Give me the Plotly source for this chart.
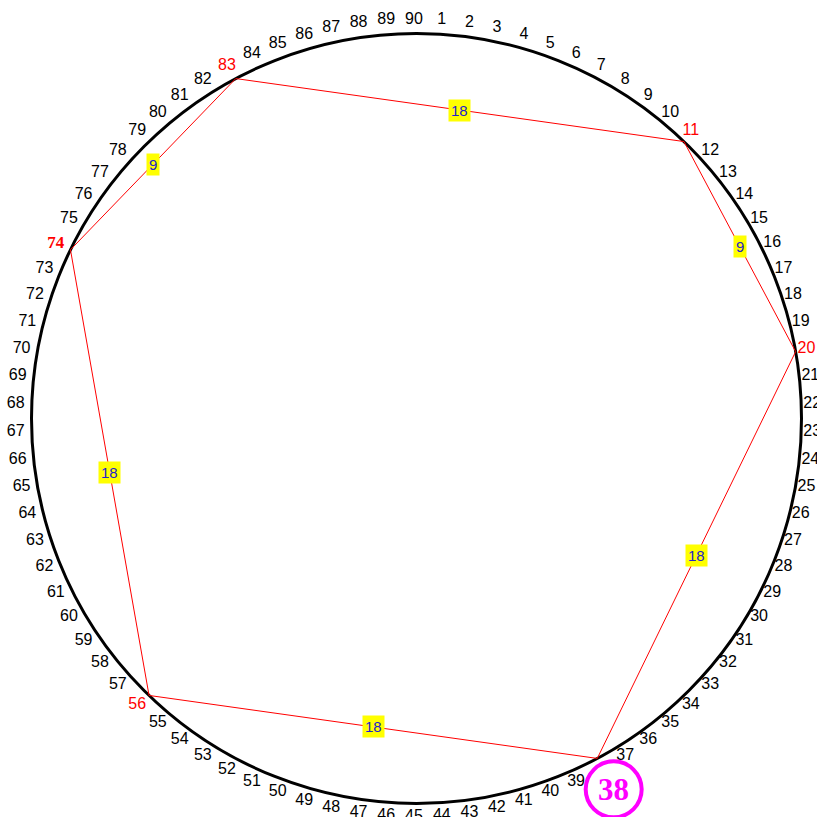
import numpy as np
import plotly.graph_objects as go

# ---- data ----
positions = list(range(1, 91))                 # numbers around the wheel
selected = [11, 20, 38, 56, 74, 83]            # marked numbers (polygon vertices)
gaps = [9, 18, 18, 18, 9, 18]                  # 11->20, 20->38, 38->56, 56->74, 74->83, 83->11
highlight = 38                                 # circled number
bold_label = 74

# ---- geometry (pixel-like data space) ----
N = len(positions)
cx, cy = 416.5, 418.5          # wheel centre
R = 385.0
lcx, lcy = 414.0, 418.0        # label ring centre
R_lab = 398.5
R_hi = 420.0


def pt(k, r, ox=cx, oy=cy):
    a = np.deg2rad(k * 360.0 / N)
    return ox + r * np.sin(a), oy - r * np.cos(a)


fig = go.Figure()

# wheel circle
fig.add_shape(type="circle", xref="x", yref="y",
              x0=cx - R, x1=cx + R, y0=cy - R, y1=cy + R,
              line=dict(color="black", width=3), layer="below")

# polygon through selected numbers
poly = selected + [selected[0]]
px_, py_ = zip(*[pt(k, R) for k in poly])
fig.add_trace(go.Scatter(x=px_, y=py_, mode="lines",
                         line=dict(color="#ff0000", width=1),
                         hoverinfo="skip", showlegend=False))

# number labels
normal = [k for k in positions if k not in selected]
lx, ly = zip(*[pt(k, R_lab, lcx, lcy) for k in normal])
fig.add_trace(go.Scatter(x=lx, y=ly, mode="text", text=[str(k) for k in normal],
                         textfont=dict(family="Liberation Sans", size=16, color="black"),
                         cliponaxis=False, hoverinfo="skip", showlegend=False))
reds = [k for k in selected if k not in (highlight, bold_label)]
rx, ry = zip(*[pt(k, R_lab, lcx, lcy) for k in reds])
fig.add_trace(go.Scatter(x=rx, y=ry, mode="text", text=[str(k) for k in reds],
                         textfont=dict(family="Liberation Sans", size=16, color="#ff0000"),
                         cliponaxis=False, hoverinfo="skip", showlegend=False))
bx, by = pt(bold_label, R_lab, lcx, lcy)
fig.add_trace(go.Scatter(x=[bx], y=[by], mode="text", text=[str(bold_label)],
                         textfont=dict(family="Liberation Serif", size=17, color="#ff0000", weight="bold"),
                         cliponaxis=False, hoverinfo="skip", showlegend=False))

# gap labels at segment midpoints
for i, g in enumerate(gaps):
    a = pt(selected[i], R)
    b = pt(selected[(i + 1) % len(selected)], R)
    fig.add_annotation(x=(a[0] + b[0]) / 2, y=(a[1] + b[1]) / 2, text=str(g),
                       showarrow=False, bgcolor="#ffff00", borderpad=2,
                       font=dict(family="Liberation Sans", size=15, color="#2222cc"))

# highlighted number
hx, hy = pt(highlight, R_hi)
fig.add_shape(type="circle", xref="x", yref="y",
              x0=hx - 28, x1=hx + 28, y0=hy - 28, y1=hy + 28,
              line=dict(color="#ff00ff", width=4), fillcolor="white", layer="above")
fig.add_annotation(x=hx, y=hy, text="<b>%d</b>" % highlight, showarrow=False,
                   font=dict(family="Liberation Serif", size=31, color="#ff00ff"))

fig.update_layout(width=817, height=817, margin=dict(l=0, r=0, t=0, b=0),
                  paper_bgcolor="white", plot_bgcolor="white",
                  xaxis=dict(range=[0, 817], visible=False, fixedrange=True),
                  yaxis=dict(range=[817, 0], visible=False, fixedrange=True))

fig.write_html("out.html", config={"displayModeBar": False},
               post_script="document.body.style.margin='0px';document.body.style.overflow='hidden';")
